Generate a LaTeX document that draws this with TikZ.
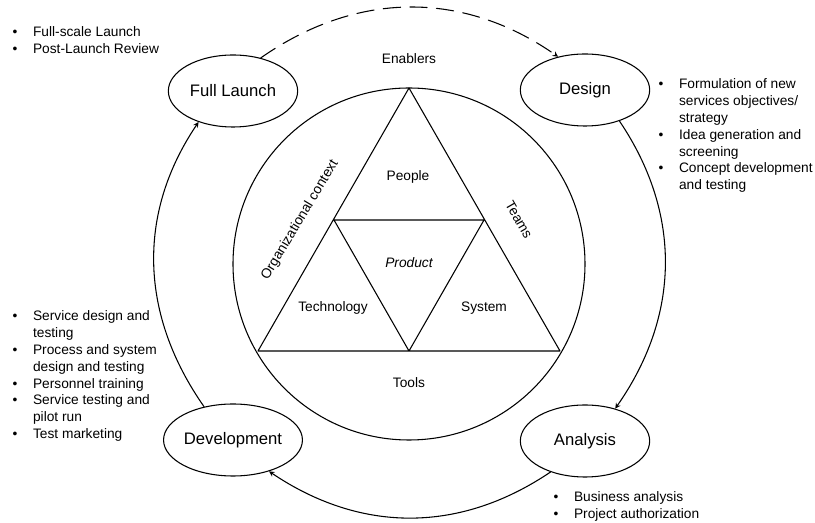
\documentclass[tikz,border=0pt]{standalone}
\usepackage{fontspec}
\setmainfont{Liberation Sans}
\usetikzlibrary{shapes.geometric}
\newcommand{\bul}{\makebox[15.4pt][l]{\textbullet}}
\begin{document}
\begin{tikzpicture}[x=0.75pt,y=0.75pt,line join=round,line cap=round,>=stealth,line width=0.8pt,
    stage/.style={draw,ellipse,minimum width=97pt,minimum height=54pt,inner sep=0pt,font=\fontsize{12.5}{15}\selectfont},
    lab/.style={font=\fontsize{10.3}{12.6}\selectfont,inner sep=0pt},
    blist/.style={lab,anchor=base west}]
    \useasboundingbox (0,0) rectangle (815,-523);
    \path 
    (409,-264) coordinate (O)
    (409,-88) coordinate (A)
    (258,-351) coordinate (B)
    (560,-351) coordinate (C)
    (334,-220) coordinate (D)
    (484,-220) coordinate (E)
    (409,-351) coordinate (F)
    ;
    \draw (O) circle (176);
    \draw (A)--(B)--(C)--cycle
    (D)--(E)--(F)--cycle
    ;
    % labels inside and round the wheel
    \foreach \x/\y/\t in {409/-64/Enablers,408/-181/People,333/-312/Technology,484/-312/System,409/-388/Tools}
    \node[lab,anchor=base] at (\x,\y) {\t};
    \node[lab,anchor=base] at (409,-268) {\itshape Product};
    \node[lab,rotate=59] at (300,-220) {Organizational context};
    \node[lab,rotate=-60] at (519,-220) {Teams};
    % stages
    \node[stage] (full) at (233,-91) {Full Launch};
    \node[stage] (design) at (585,-90) {Design};
    \node[stage] (analysis) at (585,-441) {Analysis};
    \node[stage] (devel) at (233,-440) {Development};
    \draw[->,dash pattern=on 13pt off 7pt] (full.50) to[out=35,in=145] (design.129);
    \draw[->] (design.-42) to[out=-56,in=55] (analysis.47);
    \draw[->] (analysis.222) to[out=-146,in=-34] (devel.-41);
    \draw[->] (devel.131) to[out=125,in=-124] (full.-138);
    % lists
    \node[blist] at (12,-37) {\begin{tabular}[t]{@{}l@{}l@{}}
        \bul&Full-scale Launch\\
        \bul&Post-Launch Review
    \end{tabular}};
    \node[blist] at (658,-89) {\begin{tabular}[t]{@{}l@{}l@{}}
        \bul&Formulation of new\\
        &services objectives/\\
        &strategy\\
        \bul&Idea generation and\\
        &screening\\
        \bul&Concept development\\
        &and testing
    \end{tabular}};
    \node[blist] at (12,-321) {\begin{tabular}[t]{@{}l@{}l@{}}
        \bul&Service design and\\
        &testing\\
        \bul&Process and system\\
        &design and testing\\
        \bul&Personnel training\\
        \bul&Service testing and\\
        &pilot run\\
        \bul&Test marketing
    \end{tabular}};
    \node[blist] at (553,-502) {\begin{tabular}[t]{@{}l@{}l@{}}
        \bul&Business analysis\\
        \bul&Project authorization
    \end{tabular}};
\end{tikzpicture}
\end{document}
